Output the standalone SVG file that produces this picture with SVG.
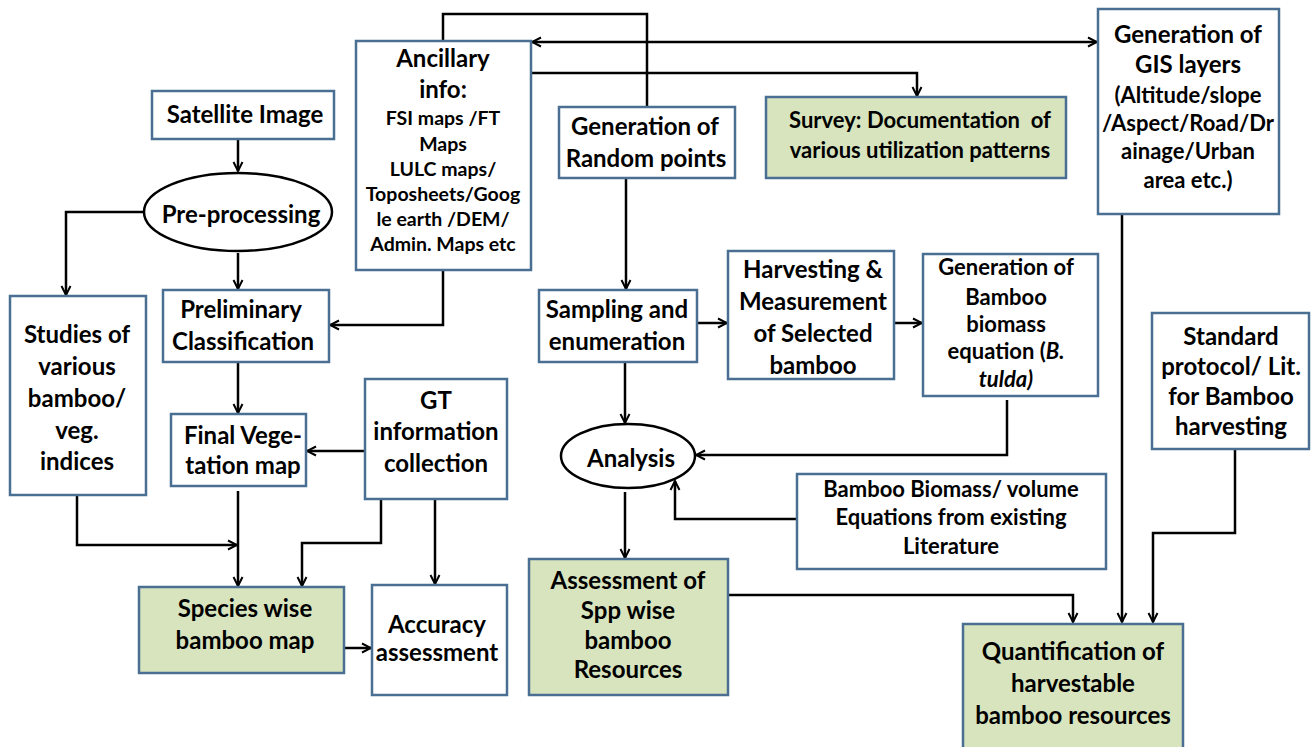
<svg xmlns="http://www.w3.org/2000/svg" width="1311" height="747" viewBox="0 0 1311 747">
<style>
.b{fill:#fff;stroke:#4a6f93;stroke-width:2.5}
.g{fill:#d7e4bd;stroke:#4a6f93;stroke-width:2.5}
.e{fill:#fff;stroke:#000;stroke-width:2.5}
.c{fill:none;stroke:#000;stroke-width:2.5}
text{font-family:Lato,"Open Sans","Liberation Sans",sans-serif;font-weight:bold;fill:#000;text-anchor:middle}
.t24{font-size:24px}
.t22{font-size:22px}
.t19{font-size:19.5px}
</style>
<defs>
<marker id="a" viewBox="0 0 12 12" refX="11" refY="6" markerWidth="12" markerHeight="12" markerUnits="userSpaceOnUse" orient="auto-start-reverse">
<path d="M2,1.5 L11,6 L2,10.5" fill="none" stroke="#000" stroke-width="2"/>
</marker>
</defs>
<g id="connectors">
<path class="c" d="M238,139 V171" marker-end="url(#a)"/>
<path class="c" d="M238,253 V289" marker-end="url(#a)"/>
<path class="c" d="M144,212 H66 V295" marker-end="url(#a)"/>
<path class="c" d="M443,270 V325 H330" marker-end="url(#a)"/>
<path class="c" d="M647,107 V14 H443 V41"/>
<path class="c" d="M532,42 H1097" marker-start="url(#a)" marker-end="url(#a)"/>
<path class="c" d="M531,73 H917 V96" marker-end="url(#a)"/>
<path class="c" d="M626,178 V289" marker-end="url(#a)"/>
<path class="c" d="M697,323 H727" marker-end="url(#a)"/>
<path class="c" d="M894,323 H922" marker-end="url(#a)"/>
<path class="c" d="M1007,400 V455 H696" marker-end="url(#a)"/>
<path class="c" d="M625,362 V423" marker-end="url(#a)"/>
<path class="c" d="M797,519 H675 V481" marker-end="url(#a)"/>
<path class="c" d="M625,492 V558" marker-end="url(#a)"/>
<path class="c" d="M728,595 H1073 V622" marker-end="url(#a)"/>
<path class="c" d="M1122,214 V622" marker-end="url(#a)"/>
<path class="c" d="M1235,449 V533 H1153 V622" marker-end="url(#a)"/>
<path class="c" d="M238,362 V413" marker-end="url(#a)"/>
<path class="c" d="M365,451 H307" marker-end="url(#a)"/>
<path class="c" d="M238,491 V586" marker-end="url(#a)"/>
<path class="c" d="M77,495 V545 H237" marker-end="url(#a)"/>
<path class="c" d="M381,499 V543 H302 V586" marker-end="url(#a)"/>
<path class="c" d="M435,499 V584" marker-end="url(#a)"/>
<path class="c" d="M342,648 H371" marker-end="url(#a)"/>
</g>
<g id="satellite">
<rect class="b" x="152" y="91" width="182" height="48"/>
<text class="t24" x="245" y="123">Satellite Image</text>
</g>
<g id="preprocessing">
<ellipse class="e" cx="238" cy="212" rx="94" ry="39"/>
<text class="t24" x="241" y="223">Pre-processing</text>
</g>
<g id="ancillary">
<rect class="b" x="356" y="41" width="175" height="229"/>
<text class="t24" x="443" y="67">Ancillary</text>
<text class="t24" x="443" y="98">info:</text>
<text class="t19" x="443" y="125">FSI maps /FT</text>
<text class="t19" x="443" y="151">Maps</text>
<text class="t19" x="443" y="176">LULC maps/</text>
<text class="t19" x="443" y="201">Toposheets/Goog</text>
<text class="t19" x="443" y="226">le earth /DEM/</text>
<text class="t19" x="443" y="251">Admin. Maps etc</text>
</g>
<g id="random">
<rect class="b" x="559" y="107" width="176" height="71"/>
<text class="t24" x="645" y="135">Generation of</text>
<text class="t24" x="646" y="167">Random points</text>
</g>
<g id="survey">
<rect class="g" x="766" y="97" width="300" height="81"/>
<text class="t22" x="920" y="128" xml:space="preserve">Survey: Documentation  of</text>
<text class="t22" x="920" y="158">various utilization patterns</text>
</g>
<g id="gis">
<rect class="b" x="1098" y="9" width="181" height="205"/>
<text class="t24" x="1188" y="43">Generation of</text>
<text class="t24" x="1188" y="73">GIS layers</text>
<text class="t22" x="1188" y="103">(Altitude/slope</text>
<text class="t22" x="1188" y="131">/Aspect/Road/Dr</text>
<text class="t22" x="1188" y="159">ainage/Urban</text>
<text class="t22" x="1188" y="188">area etc.)</text>
</g>
<g id="studies">
<rect class="b" x="10" y="296" width="136" height="199"/>
<text class="t24" x="77" y="343">Studies of</text>
<text class="t24" x="77" y="375">various</text>
<text class="t24" x="77" y="407">bamboo/</text>
<text class="t24" x="77" y="439">veg.</text>
<text class="t24" x="77" y="470">indices</text>
</g>
<g id="preliminary">
<rect class="b" x="163" y="290" width="166" height="72"/>
<text class="t24" x="241" y="318">Preliminary</text>
<text class="t24" x="243" y="350">Classification</text>
</g>
<g id="sampling">
<rect class="b" x="539" y="290" width="158" height="72"/>
<text class="t24" x="617" y="318">Sampling and</text>
<text class="t24" x="617" y="350">enumeration</text>
</g>
<g id="harvesting">
<rect class="b" x="728" y="251" width="166" height="128"/>
<text class="t24" x="813" y="278">Harvesting &amp;</text>
<text class="t24" x="813" y="310">Measurement</text>
<text class="t24" x="813" y="342">of Selected</text>
<text class="t24" x="813" y="374">bamboo</text>
</g>
<g id="biomass-eq">
<rect class="b" x="923" y="254" width="175" height="142"/>
<text class="t22" x="1006" y="275">Generation of</text>
<text class="t22" x="1006" y="305">Bamboo</text>
<text class="t22" x="1006" y="332">biomass</text>
<text class="t22" x="1006" y="359">equation (<tspan font-style="italic">B.</tspan></text>
<text class="t22" x="1006" y="387" font-style="italic">tulda)</text>
</g>
<g id="standard">
<rect class="b" x="1152" y="313" width="157" height="136"/>
<text class="t24" x="1231" y="345">Standard</text>
<text class="t24" x="1231" y="375">protocol/ Lit.</text>
<text class="t24" x="1231" y="405">for Bamboo</text>
<text class="t24" x="1231" y="435">harvesting</text>
</g>
<g id="final-veg">
<rect class="b" x="171" y="414" width="135" height="72"/>
<text class="t24" x="243" y="444">Final Vege-</text>
<text class="t24" x="243" y="474">tation map</text>
</g>
<g id="gt">
<rect class="b" x="365" y="379" width="142" height="120"/>
<text class="t24" x="436" y="409">GT</text>
<text class="t24" x="436" y="440">information</text>
<text class="t24" x="436" y="472">collection</text>
</g>
<g id="analysis">
<ellipse class="e" cx="628" cy="456" rx="67" ry="32"/>
<text class="t24" x="631" y="467">Analysis</text>
</g>
<g id="biomass-lit">
<rect class="b" x="797" y="474" width="309" height="95"/>
<text class="t22" x="951" y="497">Bamboo Biomass/ volume</text>
<text class="t22" x="951" y="525">Equations from existing</text>
<text class="t22" x="951" y="554">Literature</text>
</g>
<g id="species">
<rect class="g" x="139" y="587" width="205" height="86"/>
<text class="t24" x="245" y="617">Species wise</text>
<text class="t24" x="245" y="649">bamboo map</text>
</g>
<g id="accuracy">
<rect class="b" x="372" y="585" width="135" height="110"/>
<text class="t24" x="437" y="633">Accuracy</text>
<text class="t24" x="437" y="661">assessment</text>
</g>
<g id="assessment">
<rect class="g" x="529" y="559" width="199" height="136"/>
<text class="t24" x="628" y="589">Assessment of</text>
<text class="t24" x="628" y="619">Spp wise</text>
<text class="t24" x="628" y="649">bamboo</text>
<text class="t24" x="628" y="678">Resources</text>
</g>
<g id="quantification">
<rect class="g" x="963" y="624" width="220" height="140"/>
<text class="t24" x="1073" y="660">Quantification of</text>
<text class="t24" x="1073" y="692">harvestable</text>
<text class="t24" x="1073" y="724">bamboo resources</text>
</g>
</svg>
